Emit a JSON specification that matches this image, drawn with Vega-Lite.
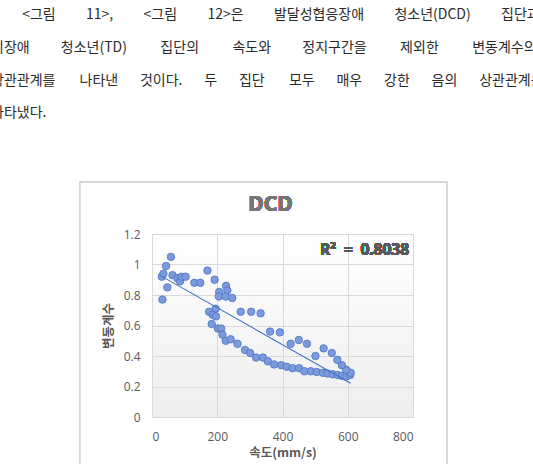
{
  "$schema": "https://vega.github.io/schema/vega-lite/v6.json",
  "autosize": {"type": "none"},
  "padding": {"left": 152, "top": 234, "right": 120, "bottom": 47},
  "width": 261,
  "height": 183,
  "background": "white",
  "title": {
    "text": [
      "\u200b\u2003\u2003 <그림\u2003\u2003\u200611>,\u2003\u2003\u2006<그림\u2003\u2003\u200612>은\u2003\u2003\u2006발달성협응장애\u2003\u2003\u2006청소년(DCD)\u2003\u2003\u2006집단과",
      "비장애\u2003\u2003 청소년(TD)\u2003\u2003 \u2006집단의\u2003\u2003 \u2006속도와\u2003\u2003 정지구간을\u2003\u2003 \u2006제외한\u2003\u2003 \u2006변동계수의",
      "상관관계를\u2003\u2004 \u2006나타낸\u2003\u2004 것이다.\u2003\u2004 두\u2003\u2004 집단\u2003\u2004 \u2006모두\u2003\u2004 매우\u2003\u2004 강한\u2003\u2004 음의\u2003\u2004 상관관계를",
      "나타냈다."
    ],
    "anchor": "start",
    "frame": "group",
    "dx": -161,
    "dy": -57,
    "font": "Noto Sans CJK KR",
    "fontSize": 14,
    "fontWeight": "normal",
    "color": "#2b2b2b",
    "lineHeight": 32.7
  },
  "data": {
    "values": [
      {"x": 30, "y": 0.92}, {"x": 35, "y": 0.94}, {"x": 43, "y": 0.99}, {"x": 58, "y": 1.05},
      {"x": 32, "y": 0.77}, {"x": 47, "y": 0.85}, {"x": 63, "y": 0.93}, {"x": 78, "y": 0.91},
      {"x": 86, "y": 0.89}, {"x": 90, "y": 0.92}, {"x": 103, "y": 0.92}, {"x": 130, "y": 0.88},
      {"x": 148, "y": 0.88}, {"x": 170, "y": 0.96}, {"x": 192, "y": 0.90}, {"x": 227, "y": 0.86},
      {"x": 206, "y": 0.82}, {"x": 231, "y": 0.83}, {"x": 205, "y": 0.79}, {"x": 226, "y": 0.79},
      {"x": 246, "y": 0.78}, {"x": 272, "y": 0.69}, {"x": 304, "y": 0.69}, {"x": 333, "y": 0.68},
      {"x": 175, "y": 0.69}, {"x": 195, "y": 0.71}, {"x": 186, "y": 0.67}, {"x": 196, "y": 0.66},
      {"x": 183, "y": 0.61}, {"x": 202, "y": 0.58}, {"x": 212, "y": 0.58}, {"x": 216, "y": 0.54},
      {"x": 226, "y": 0.50}, {"x": 241, "y": 0.51}, {"x": 262, "y": 0.48}, {"x": 285, "y": 0.44},
      {"x": 301, "y": 0.42}, {"x": 319, "y": 0.39}, {"x": 340, "y": 0.39}, {"x": 355, "y": 0.365},
      {"x": 374, "y": 0.345}, {"x": 396, "y": 0.34}, {"x": 413, "y": 0.33}, {"x": 431, "y": 0.32},
      {"x": 451, "y": 0.32}, {"x": 467, "y": 0.30}, {"x": 487, "y": 0.30}, {"x": 505, "y": 0.295},
      {"x": 524, "y": 0.29}, {"x": 538, "y": 0.285}, {"x": 554, "y": 0.28}, {"x": 569, "y": 0.275},
      {"x": 582, "y": 0.27}, {"x": 595, "y": 0.265}, {"x": 607, "y": 0.275}, {"x": 609, "y": 0.29},
      {"x": 595, "y": 0.31}, {"x": 582, "y": 0.34}, {"x": 568, "y": 0.375}, {"x": 551, "y": 0.42},
      {"x": 526, "y": 0.45}, {"x": 501, "y": 0.40}, {"x": 475, "y": 0.48}, {"x": 450, "y": 0.505},
      {"x": 425, "y": 0.48}, {"x": 392, "y": 0.555}, {"x": 362, "y": 0.56}
    ]
  },
  "layer": [
    {
      "mark": {"type": "rect", "fill": null, "filled": false, "stroke": "#d9d9d9", "strokeWidth": 1, "clip": false},
      "encoding": {
        "x": {
          "datum": -222, "type": "quantitative",
          "scale": {"domain": [0, 800], "nice": false},
          "axis": {"values": [0, 200, 400, 600, 800], "tickCount": 5, "format": "d", "title": "속도(mm/s)", "labelPadding": 14, "titlePadding": 4, "labelOverlap": false}
        },
        "x2": {"datum": 905},
        "y": {
          "datum": 1.541, "type": "quantitative",
          "scale": {"domain": [0, 1.2], "nice": false},
          "axis": {"values": [0, 0.2, 0.4, 0.6, 0.8, 1, 1.2], "tickCount": 7, "format": "~r", "title": "변동계수", "labelPadding": 12, "titlePadding": 8, "labelOverlap": false, "labelBound": false}
        },
        "y2": {"datum": -0.4}
      }
    },
    {
      "mark": {"type": "circle", "size": 56, "fill": "#7b9bdc", "fillOpacity": 1, "stroke": "#4a72c2", "strokeWidth": 0.8},
      "encoding": {
        "x": {
          "field": "x", "type": "quantitative",
          "scale": {"domain": [0, 800], "nice": false},
          "axis": {"values": [0, 200, 400, 600, 800], "tickCount": 5, "format": "d", "title": "속도(mm/s)", "labelPadding": 14, "titlePadding": 4, "labelOverlap": false}
        },
        "y": {
          "field": "y", "type": "quantitative",
          "scale": {"domain": [0, 1.2], "nice": false},
          "axis": {"values": [0, 0.2, 0.4, 0.6, 0.8, 1, 1.2], "tickCount": 7, "format": "~r", "title": "변동계수", "labelPadding": 12, "titlePadding": 8, "labelOverlap": false, "labelBound": false}
        }
      }
    },
    {
      "transform": [{"regression": "y", "on": "x"}],
      "mark": {"type": "line", "color": "#4472c4", "strokeWidth": 1.1},
      "encoding": {
        "x": {"field": "x", "type": "quantitative"},
        "y": {"field": "y", "type": "quantitative"}
      }
    },
    {
      "mark": {"type": "text", "text": "DCD", "font": "Noto Sans", "fontSize": 21, "fontWeight": "bold", "fill": "#767676", "align": "center", "baseline": "middle", "clip": false},
      "encoding": {
        "x": {"datum": 363, "type": "quantitative"},
        "y": {"datum": 1.39, "type": "quantitative"}
      }
    },
    {
      "mark": {"type": "text", "text": "R²\u2002=\u20020.8038", "font": "Noto Sans", "fontSize": 15.5, "fontWeight": "bold", "fill": "#595959", "align": "right", "baseline": "middle"},
      "encoding": {
        "x": {"datum": 788, "type": "quantitative"},
        "y": {"datum": 1.095, "type": "quantitative"}
      }
    }
  ],
  "config": {
    "view": {
      "stroke": "#d9d9d9",
      "strokeWidth": 1,
      "fill": {"gradient": "linear", "x1": 0, "y1": 0, "x2": 0, "y2": 1,
        "stops": [{"offset": 0, "color": "#ffffff"}, {"offset": 1, "color": "#eeeeee"}]}
    },
    "axis": {
      "domain": false,
      "ticks": false,
      "tickSize": 0,
      "grid": true,
      "gridColor": "#d9d9d9",
      "gridWidth": 1,
      "labelFont": "Open Sans",
      "labelFontSize": 12,
      "labelColor": "#595959",
      "titleFont": "Noto Sans CJK KR",
      "titleFontSize": 12.5,
      "titleFontWeight": "bold",
      "titleColor": "#595959"
    }
  }
}
